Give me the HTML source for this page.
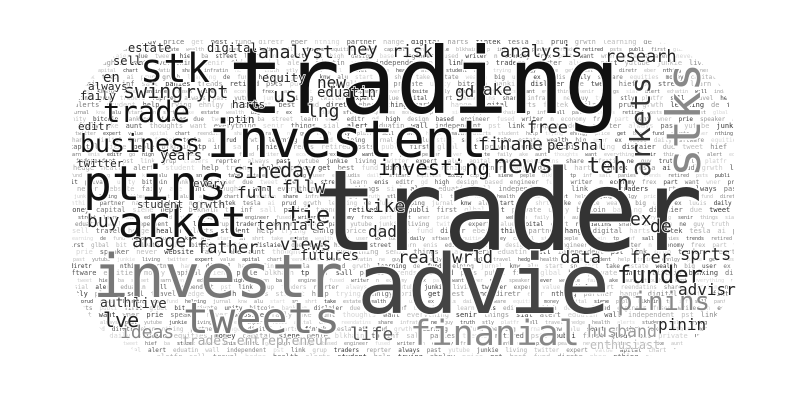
<!DOCTYPE html>
<html><head><meta charset="utf-8"><style>
html,body{margin:0;padding:0;background:#fff;}
svg{display:block;font-family:"DejaVu Sans Mono","Liberation Mono",monospace;}
</style></head><body>
<svg id="cloud" width="800" height="400" viewBox="0 0 800 400" xmlns="http://www.w3.org/2000/svg">
<defs><clipPath id="shape"><rect x="72" y="40" width="662" height="316" rx="95" ry="95"/></clipPath></defs>
<g id="filler" clip-path="url(#shape)"></g>
<g id="big"></g>
</svg>
<script>
const fillWords = ["estate","digital","sell","always","faily","editr","retired","wealth","harts","travel","past","ake","gd","psts","big","fintek","hedge","yutube","aunt","high","publi","user","tesla","health","junkie","thoughts","design","first","ex","ai","alerts","living","want","based","glbal","ludis","prud","student","twitter","everything","engineer","bit","daily","grwth","help","expert","senir","fused","private","sftware","learning","trying","value","things","writer","unity","equities","de","ehnlgy","apital","sial","n","bitcoin","money","fund","price","chart","alert","economy","banking","capital","helping","get","reendatins","eduatin","frex","dislaier","siene","jurnal","best","share","wall","part","due","peple","knw","fund","infratin","independent","want","tweet","blkhain","alu","diretr","ne","pst","wner","hief","tp","start","eber","guy","link","prie","ba","inf","sn","nthing","truth","grup","speaker","street","sall","shrt","partner","stly","traders","never","learn","panies","take","hange","platfr","reprter","website","enis","trends"];
const grays = ["#333","#555","#666","#777","#888","#999","#aaa","#bbb","#ccc","#d4d4d4","#444","#bbb"];
// word, x, baseline y, font-size, colour, forced width (0 = natural), rotation
const bigWords = ["trader","trading","advie","investr","investent","ptins","arket","tweets","finanial","stk","stks","arkets","trade","business","news","funder","pinins","investing","husband","enthusiast","teh","finane","free","analysis","researh","risk","ney","data","real","wrld","frer","sprts","life","lng","analyst","swing","rypt","us","sine","day","fllw","full","tie","buy","anager","father","views","futures","tehniale","years","trades entrepreneur","ideas","lve","live","authr","new","eduatin","gd","ake","persnal","ex","de","like","dad","n","advisr","pinin","estate","sell","en","always","faily","editr","twitter","digital","equity","harts","ptin","every","grwth","student"];
const bigX = [313,228,357,93,207,83,118,183,410,140,700,650,103,80,493,617,617,378,587,590,587,478,527,500,605,392,347,560,398,452,630,680,350,307,258,123,185,273,233,280,282,237,287,87,132,197,280,300,257,160,182,120,103,133,100,317,317,455,483,547,630,650,362,368,617,678,658,128,113,103,88,80,78,77,207,262,232,228,193,192,137];
const bigY = [250,113,313,297,157,200,237,333,345,82,177,177,122,152,173,283,310,175,337,349,173,150,133,57,62,57,55,263,263,263,263,260,340,117,58,98,98,102,178,177,193,198,223,227,247,253,250,260,230,160,345,338,327,308,307,88,97,97,95,150,225,232,212,237,190,295,330,52,65,82,90,100,130,167,52,82,108,123,187,208,208];
const bigSizes = [112,92,82,60,52,48,43,43,35,40,47,28,29,25,26,24,26,21,17,12,22,18,17,17,17,17,17,17,17,17,17,17,18,18,18,20,18,20,20,20,18,16,24,18,18,17,17,14,14,14,13,18,20,14,13,16,14,16,16,14,18,18,18,16,20,16,16,12,12,14,11,12,11,11,12,12,11,11,11,11,11];
const bigColors = ["#333","#111","#444","#777","#111","#111","#111","#777","#888","#111","#888","#333","#111","#111","#222","#222","#888","#111","#999","#bbb","#222","#222","#222","#222","#222","#222","#222","#222","#222","#222","#222","#222","#555","#222","#222","#222","#222","#222","#222","#222","#222","#222","#222","#222","#222","#222","#222","#222","#333","#222","#aaa","#888","#222","#333","#333","#222","#222","#222","#222","#222","#222","#222","#222","#222","#222","#222","#222","#222","#222","#222","#222","#222","#222","#222","#222","#222","#222","#222","#333","#333","#333"];
const bigWidths = [390,392,253,250,280,144,129,157,170,70,114,100,87,120,60,86,93,112,70,70];
const bigRot = [0,0,0,0,0,0,0,0,0,0,-90,-90];
</script>
<script>
const NS="http://www.w3.org/2000/svg";
const filler=document.getElementById('filler');
let k=0;
for(let y=44;y<362;y+=7){
  let x=66+((y*7)%13);
  while(x<740){
    const w=fillWords[(k*7+y)%fillWords.length];
    const fs=5+((k*3+y)%3);
    const t=document.createElementNS(NS,'text');
    
    
    t.setAttribute('x',x);t.setAttribute('y',y);
    t.setAttribute('font-size',fs);
    t.setAttribute('fill',grays[(k*5)%grays.length]);
    t.textContent=w;
    filler.appendChild(t);
    x+=w.length*fs*0.6+7;k++;
  }
}
const big=document.getElementById('big');
bigWords.forEach((w,i)=>{
  const fs=bigSizes[i];
  const t=document.createElementNS(NS,'text');
  
  
  t.setAttribute('font-size',fs);
  t.setAttribute('fill',bigColors[i]);
  t.setAttribute('stroke','#fff');t.setAttribute('stroke-width',fs>30?3:1.5);
  t.setAttribute('paint-order','stroke');
  if(bigWidths[i]){t.setAttribute('textLength',bigWidths[i]);t.setAttribute('lengthAdjust','spacingAndGlyphs');}
  if(bigRot[i]) t.setAttribute('transform','translate('+bigX[i]+','+bigY[i]+') rotate('+bigRot[i]+')');
  else {t.setAttribute('x',bigX[i]);t.setAttribute('y',bigY[i]);}
  t.textContent=w;
  big.appendChild(t);
});
</script>
</body></html>
